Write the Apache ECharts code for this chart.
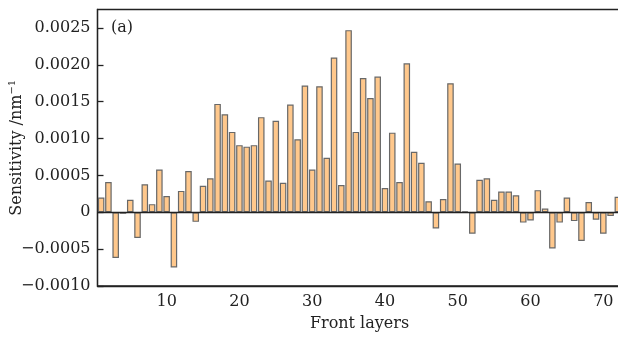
<!DOCTYPE html>
<html>
<head>
<meta charset="utf-8">
<script src="https://cdn.jsdelivr.net/npm/echarts@6/dist/echarts.min.js"></script>
<style>html,body{margin:0;padding:0;background:#fff;}#c{width:618px;height:338px;}</style>
</head>
<body>
<div id="c"></div>
<script>
const layers = ['1','2','3','4','5','6','7','8','9','10','11','12','13','14','15','16','17','18','19','20','21','22','23','24','25','26','27','28','29','30','31','32','33','34','35','36','37','38','39','40','41','42','43','44','45','46','47','48','49','50','51','52','53','54','55','56','57','58','59','60','61','62','63','64','65','66','67','68','69','70','71','72'];
const sensitivity = [0.00020,0.00041,-0.00062,-0.00002,0.00017,-0.00035,0.00038,0.00011,0.00058,0.00022,
  -0.00075,0.00029,0.00056,-0.00013,0.00036,0.00046,0.00147,0.00133,0.00109,0.00091,
  0.00089,0.00091,0.00129,0.00043,0.00124,0.00040,0.00146,0.00099,0.00172,0.00058,
  0.00171,0.00074,0.00210,0.00037,0.00247,0.00109,0.00182,0.00155,0.00184,0.00033,
  0.00108,0.00041,0.00202,0.00082,0.00067,0.00015,-0.00022,0.00018,0.00175,0.00066,
  0.00001,-0.00029,0.00044,0.00046,0.00017,0.00028,0.00028,0.00023,-0.00014,-0.00011,
  0.00030,0.00005,-0.00049,-0.00014,0.00020,-0.00012,-0.00039,0.00014,-0.00010,-0.00029,
  -0.00005,0.00021];
const yTickLabels = ['\u22120.0010','\u22120.0005','0','0.0005','0.0010','0.0015','0.0020','0.0025'];
const xTickLabels = ['10','20','30','40','50','60','70'];

const font = 'DejaVu Serif';
const chart = echarts.init(document.getElementById('c'), null, {renderer: 'canvas'});
chart.setOption({
  animation: false,
  backgroundColor: '#fff',
  grid: {left: 97.5, top: 9.5, width: 524, height: 276.5, outerBoundsMode: 'none', containLabel: false,
    show: true, borderColor: '#222', borderWidth: 1.3, backgroundColor: 'transparent'},
  graphic: [{type: 'text', left: 111, top: 20, style: {text: '(a)', font: '16px "DejaVu Serif"', fill: '#222'}}],
  xAxis: {
    type: 'category', data: layers, boundaryGap: true,
    axisLine: {onZero: false, lineStyle: {color: '#222', width: 1.3}},
    axisTick: {inside: true, length: 6, alignWithLabel: true, lineStyle: {color: '#222', width: 1.3},
      interval: function (i, v) { return xTickLabels.indexOf(v) >= 0; }},
    axisLabel: {color: '#222', fontFamily: font, fontSize: 16, margin: 8,
      interval: function (i, v) { return xTickLabels.indexOf(v) >= 0; }},
    name: 'Front layers', nameLocation: 'middle', nameGap: 30, nameMoveOverlap: false,
    nameTextStyle: {color: '#222', fontFamily: font, fontSize: 16}
  },
  yAxis: {
    type: 'value', min: -0.001, max: 0.00275, interval: 0.0005,
    splitLine: {show: false},
    axisLine: {show: true, lineStyle: {color: '#222', width: 1.3}},
    axisTick: {show: true, inside: true, length: 6, lineStyle: {color: '#222', width: 1.3}},
    axisLabel: {color: '#222', fontFamily: font, fontSize: 16, margin: 7, showMaxLabel: false,
      formatter: function (v) {
        const idx = Math.round((v + 0.001) / 0.0005);
        return yTickLabels[idx] !== undefined && Math.abs(v - (-0.001 + idx * 0.0005)) < 1e-9 ? yTickLabels[idx] : '';
      }},
    name: '{a|Sensitivity /nm}{s|\u22121}', nameLocation: 'middle', nameGap: 72, nameMoveOverlap: false,
    nameTextStyle: {color: '#222', fontFamily: font, fontSize: 16,
      rich: {a: {fontFamily: font, fontSize: 16, color: '#222'}, s: {fontFamily: font, fontSize: 10, color: '#222', padding: [0, 0, 8, 0]}}}
  },
  series: [{
    type: 'bar', data: sensitivity, barCategoryGap: '10%',
    itemStyle: {color: '#FFC88C', borderColor: '#686868', borderWidth: 1.2},
    markLine: {silent: true, symbol: 'none', label: {show: false},
      lineStyle: {color: '#222', width: 1.3, type: 'solid'}, data: [{yAxis: 0}]}
  }]
});
</script>
</body>
</html>
